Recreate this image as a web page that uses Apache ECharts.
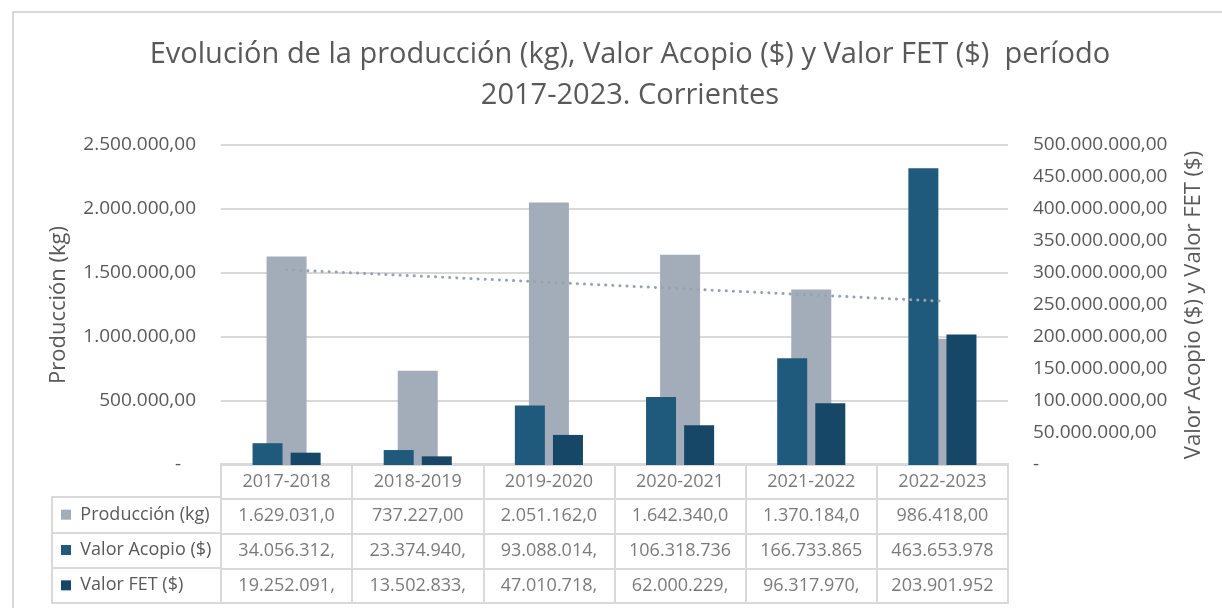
<!DOCTYPE html>
<html>
<head>
<meta charset="utf-8">
<script src="https://cdn.jsdelivr.net/npm/echarts@6/dist/echarts.min.js"></script>
<style>
  html, body { margin: 0; padding: 0; background: #fff; }
  #main { width: 1222px; height: 608px; }
</style>
</head>
<body>
<div id="main"></div>
<script>
var years = ['2017-2018', '2018-2019', '2019-2020', '2020-2021', '2021-2022', '2022-2023'];
var produccion = [1629031, 737227, 2051162, 1642340, 1370184, 986418];
var acopio = [34056312, 23374940, 93088014, 106318736, 166733865, 463653978];
var fet = [19252091, 13502833, 47010718, 62000229, 96317970, 203901952];
var rowNames = ['Producción (kg)', 'Valor Acopio ($)', 'Valor FET ($)'];

var colors = ['#a3acb9', '#1f5a7d', '#174766'];
var textColor = '#595959';
var lineColor = '#d9d9d9';
var font = 'Open Sans';

// numbers like 1.629.031,00
function fmt(v) {
    var s = Math.round(v).toString().replace(/\B(?=(\d{3})+(?!\d))/g, '.');
    return s + ',00';
}

// linear trend of the production series (Excel trendline)
var n = produccion.length, sx = 0, sy = 0, sxy = 0, sxx = 0;
produccion.forEach(function (y, i) {
    var x = i + 1;
    sx += x; sy += y; sxy += x * y; sxx += x * x;
});
var slope = (n * sxy - sx * sy) / (n * sxx - sx * sx);
var icpt = (sy - slope * sx) / n;
var trend = produccion.map(function (y, i) { return icpt + slope * (i + 1); });

// table cells (excel cuts the long numbers)
var cells = [];
years.forEach(function (y, i) {
    cells.push([i, 0, y]);
    cells.push([i, 1, fmt(produccion[i]).slice(0, 11)]);
    cells.push([i, 2, fmt(acopio[i]).slice(0, 11)]);
    cells.push([i, 3, fmt(fet[i]).slice(0, 11)]);
});

var myChart = echarts.init(document.getElementById('main'));

var option = {
    animation: false,
    textStyle: { fontFamily: font, color: textColor },
    title: {
        text: 'Evolución de la producción (kg), Valor Acopio ($) y Valor FET ($)  período\n2017-2023. Corrientes',
        left: 625,
        top: 29,
        textAlign: 'center',
        textStyle: {
            fontFamily: font,
            fontWeight: 'normal',
            fontSize: 29,
            lineHeight: 41,
            color: textColor
        }
    },
    graphic: [
        {
            type: 'rect',
            shape: { x: 13, y: 12, width: 1240, height: 620 },
            style: { fill: 'none', stroke: lineColor, lineWidth: 2 },
            silent: true
        }
    ],
    grid: [
        { left: 221, top: 145, width: 787, height: 320 },
        { left: 221, top: 464, width: 787, height: 139, show: true, borderColor: lineColor, borderWidth: 2 },
        { left: 52, top: 497, width: 169, height: 106, show: true, borderColor: lineColor, borderWidth: 2 }
    ],
    xAxis: [
        {
            type: 'category', gridIndex: 0, data: years,
            axisLine: { show: false }, axisTick: { show: false }, axisLabel: { show: false }
        },
        {
            type: 'category', gridIndex: 0, data: years, show: false
        },
        {
            type: 'category', gridIndex: 1, data: years,
            axisLine: { show: false }, axisTick: { show: false }, axisLabel: { show: false },
            splitLine: { show: true, interval: 0, lineStyle: { color: lineColor, width: 2 } }
        },
        { type: 'value', gridIndex: 2, show: false }
    ],
    yAxis: [
        {
            type: 'value', gridIndex: 0, min: 0, max: 2500000, interval: 500000,
            name: 'Producción (kg)', nameLocation: 'middle', nameRotate: 90, nameGap: 151,
            nameTextStyle: { fontFamily: font, fontSize: 22, color: textColor },
            axisLine: { show: false }, axisTick: { show: false },
            axisLabel: {
                margin: 25, fontSize: 19, color: textColor, fontFamily: font,
                formatter: function (v) { return v === 0 ? '-   ' : fmt(v); }
            },
            splitLine: { lineStyle: { color: lineColor, width: 2 } }
        },
        {
            type: 'value', gridIndex: 0, min: 0, max: 500000000, interval: 50000000,
            position: 'right',
            name: 'Valor Acopio ($) y Valor FET ($)', nameLocation: 'middle', nameRotate: 90, nameGap: 175,
            nameTextStyle: { fontFamily: font, fontSize: 22, color: textColor },
            axisLine: { show: false }, axisTick: { show: false },
            axisLabel: {
                margin: 25, fontSize: 19, color: textColor, fontFamily: font,
                formatter: function (v) { return v === 0 ? '-' : fmt(v); }
            },
            splitLine: { show: false }
        },
        {
            type: 'category', gridIndex: 1, data: ['', rowNames[0], rowNames[1], rowNames[2]], inverse: true,
            axisLine: { show: false }, axisTick: { show: false }, axisLabel: { show: false },
            splitLine: { show: true, interval: 0, lineStyle: { color: lineColor, width: 2 } }
        },
        {
            type: 'category', gridIndex: 2, data: rowNames, inverse: true,
            axisLine: { show: false }, axisTick: { show: false },
            axisLabel: {
                inside: true, margin: 9, fontSize: 18, color: textColor, fontFamily: font,
                formatter: function (v, i) { return '{s' + i + '|}  ' + v; },
                rich: {
                    s0: { width: 10, height: 10, backgroundColor: colors[0] },
                    s1: { width: 10, height: 10, backgroundColor: colors[1] },
                    s2: { width: 10, height: 10, backgroundColor: colors[2] }
                }
            },
            splitLine: { show: true, interval: 0, lineStyle: { color: lineColor, width: 2 } }
        }
    ],
    series: [
        {
            name: 'Producción (kg)', type: 'bar', xAxisIndex: 1, yAxisIndex: 0,
            data: produccion, barWidth: 40, z: 1,
            itemStyle: { color: colors[0] }
        },
        {
            name: 'Valor Acopio ($)', type: 'bar', xAxisIndex: 0, yAxisIndex: 1,
            data: acopio, barWidth: 30, barGap: '27%', z: 2,
            itemStyle: { color: colors[1] }
        },
        {
            name: 'Valor FET ($)', type: 'bar', xAxisIndex: 0, yAxisIndex: 1,
            data: fet, barWidth: 30, barGap: '27%', z: 2,
            itemStyle: { color: colors[2] }
        },
        {
            name: 'Tendencia', type: 'line', xAxisIndex: 0, yAxisIndex: 0,
            data: trend, symbol: 'none', z: 3,
            lineStyle: { color: '#97a3b3', width: 3, type: [0.1, 7], cap: 'round' }
        },
        {
            name: 'tabla', type: 'scatter', xAxisIndex: 2, yAxisIndex: 2,
            data: cells, symbolSize: 1,
            itemStyle: { color: 'rgba(0,0,0,0)' },
            label: {
                show: true, position: 'inside', fontSize: 18, color: textColor, fontFamily: font,
                formatter: function (p) { return p.value[2]; }
            }
        }
    ]
};

option && myChart.setOption(option);
</script>
</body>
</html>
